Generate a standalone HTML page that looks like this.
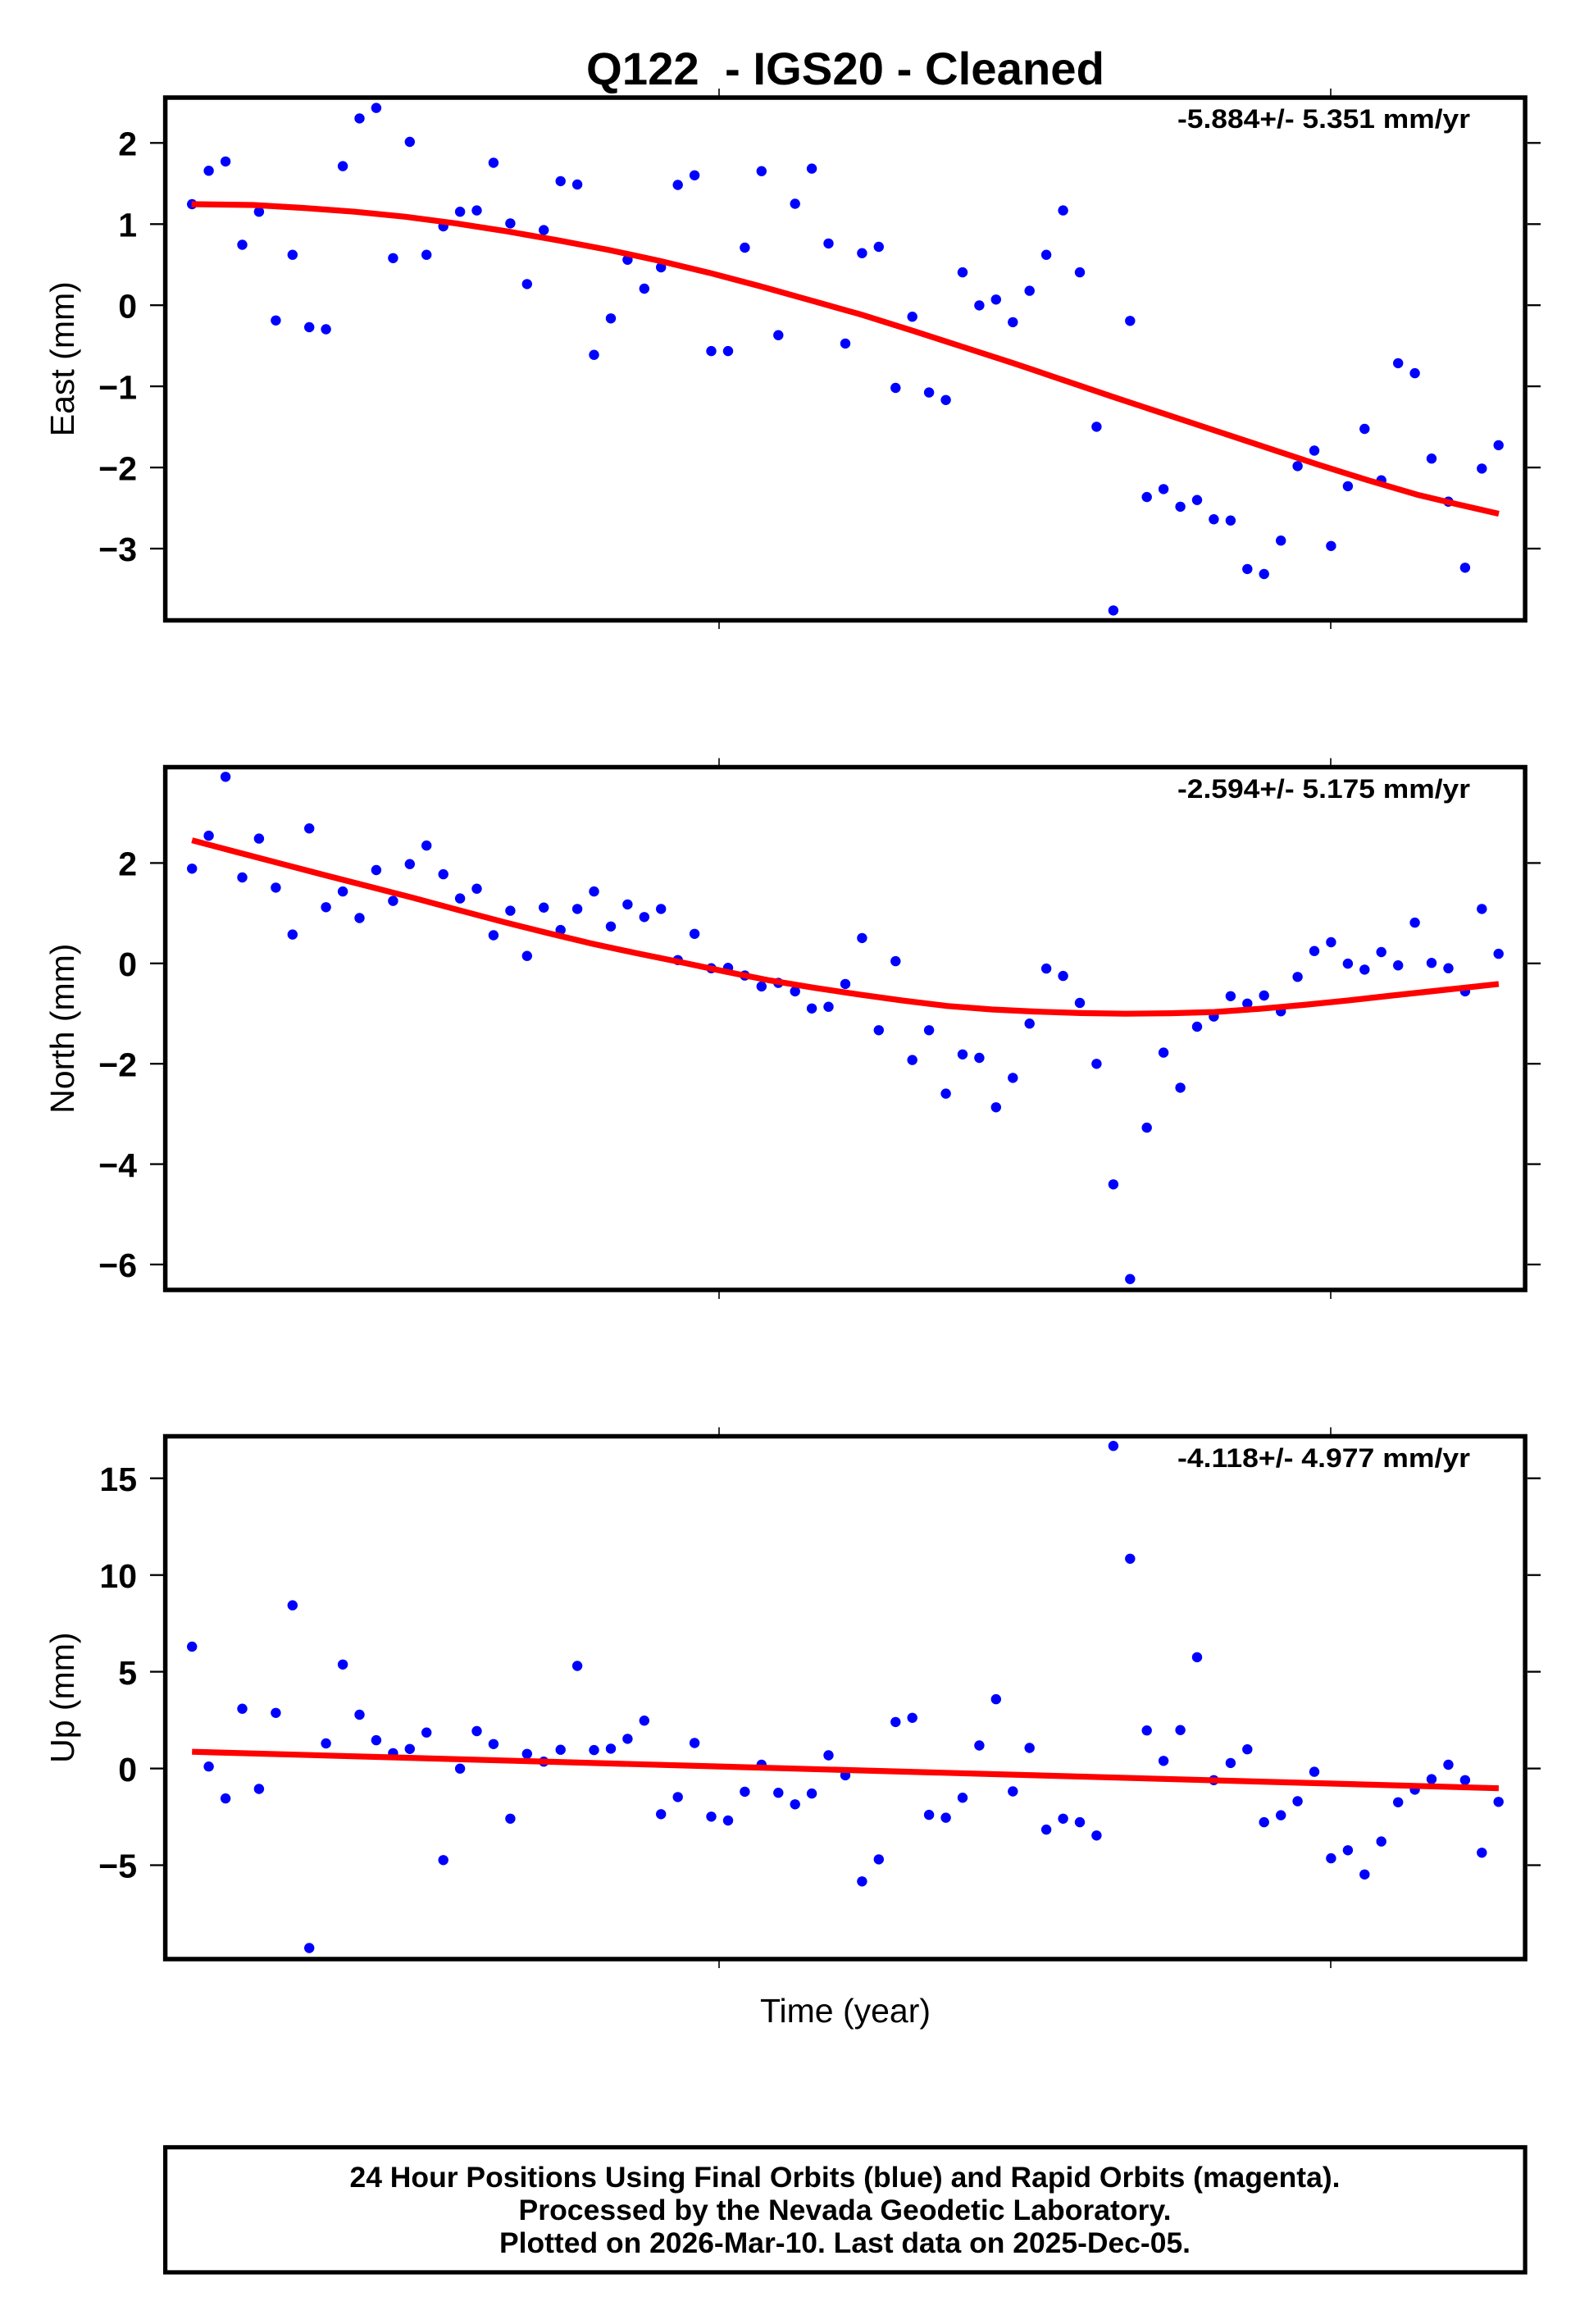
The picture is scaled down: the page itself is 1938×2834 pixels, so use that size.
<!DOCTYPE html>
<html>
<head>
<meta charset="utf-8">
<style>
html,body{margin:0;padding:0;background:#fff;}
svg{display:block;}
text{font-family:"Liberation Sans",Arial,sans-serif;}
</style>
</head>
<body>
<svg width="1938" height="2834" viewBox="0 0 1938 2834" xmlns="http://www.w3.org/2000/svg">
<rect x="0" y="0" width="1938" height="2834" fill="#fff"/>

<!-- Title -->
<text x="1031" y="103" font-size="56" font-weight="bold" text-anchor="middle" textLength="632" lengthAdjust="spacingAndGlyphs" style="white-space:pre">Q122  - IGS20 - Cleaned</text>

<!-- ================= EAST ================= -->
<g fill="#0000ff">
<circle cx="234.2" cy="249.0" r="6.2"/><circle cx="254.6" cy="208.2" r="6.2"/><circle cx="275.1" cy="196.9" r="6.2"/><circle cx="295.5" cy="298.5" r="6.2"/><circle cx="315.9" cy="258.2" r="6.2"/><circle cx="336.4" cy="390.8" r="6.2"/><circle cx="356.8" cy="310.7" r="6.2"/><circle cx="377.2" cy="399.0" r="6.2"/><circle cx="397.6" cy="401.5" r="6.2"/><circle cx="418.1" cy="202.6" r="6.2"/><circle cx="438.5" cy="144.4" r="6.2"/><circle cx="458.9" cy="131.6" r="6.2"/><circle cx="479.4" cy="314.8" r="6.2"/><circle cx="499.8" cy="173.0" r="6.2"/><circle cx="520.2" cy="310.7" r="6.2"/><circle cx="540.7" cy="276.0" r="6.2"/><circle cx="561.1" cy="258.2" r="6.2"/><circle cx="581.5" cy="256.6" r="6.2"/><circle cx="601.9" cy="198.5" r="6.2"/><circle cx="622.4" cy="272.4" r="6.2"/><circle cx="642.8" cy="346.4" r="6.2"/><circle cx="663.2" cy="280.6" r="6.2"/><circle cx="683.7" cy="220.9" r="6.2"/><circle cx="704.1" cy="225.0" r="6.2"/><circle cx="724.5" cy="432.7" r="6.2"/><circle cx="745.0" cy="388.3" r="6.2"/><circle cx="765.4" cy="316.8" r="6.2"/><circle cx="785.8" cy="352.0" r="6.2"/><circle cx="806.2" cy="326.0" r="6.2"/><circle cx="826.7" cy="225.5" r="6.2"/><circle cx="847.1" cy="213.8" r="6.2"/><circle cx="867.5" cy="428.1" r="6.2"/><circle cx="888.0" cy="428.1" r="6.2"/><circle cx="908.4" cy="302.0" r="6.2"/><circle cx="928.8" cy="208.7" r="6.2"/><circle cx="949.3" cy="408.7" r="6.2"/><circle cx="969.7" cy="248.5" r="6.2"/><circle cx="990.1" cy="205.6" r="6.2"/><circle cx="1010.5" cy="296.9" r="6.2"/><circle cx="1031.0" cy="418.9" r="6.2"/><circle cx="1051.4" cy="308.7" r="6.2"/><circle cx="1071.8" cy="301.0" r="6.2"/><circle cx="1092.3" cy="473.0" r="6.2"/><circle cx="1112.7" cy="386.2" r="6.2"/><circle cx="1133.1" cy="478.6" r="6.2"/><circle cx="1153.6" cy="487.8" r="6.2"/><circle cx="1174.0" cy="332.1" r="6.2"/><circle cx="1194.4" cy="372.4" r="6.2"/><circle cx="1214.8" cy="365.3" r="6.2"/><circle cx="1235.3" cy="392.9" r="6.2"/><circle cx="1255.7" cy="354.6" r="6.2"/><circle cx="1276.1" cy="310.7" r="6.2"/><circle cx="1296.6" cy="256.6" r="6.2"/><circle cx="1317.0" cy="332.1" r="6.2"/><circle cx="1337.4" cy="520.4" r="6.2"/><circle cx="1357.9" cy="744.4" r="6.2"/><circle cx="1378.3" cy="391.3" r="6.2"/><circle cx="1398.7" cy="606.1" r="6.2"/><circle cx="1419.1" cy="596.4" r="6.2"/><circle cx="1439.6" cy="617.9" r="6.2"/><circle cx="1460.0" cy="609.7" r="6.2"/><circle cx="1480.4" cy="633.2" r="6.2"/><circle cx="1500.9" cy="634.7" r="6.2"/><circle cx="1521.3" cy="693.9" r="6.2"/><circle cx="1541.7" cy="700.0" r="6.2"/><circle cx="1562.2" cy="659.2" r="6.2"/><circle cx="1582.6" cy="568.4" r="6.2"/><circle cx="1603.0" cy="549.5" r="6.2"/><circle cx="1623.4" cy="665.8" r="6.2"/><circle cx="1643.9" cy="592.9" r="6.2"/><circle cx="1664.3" cy="523.0" r="6.2"/><circle cx="1684.7" cy="585.7" r="6.2"/><circle cx="1705.2" cy="442.9" r="6.2"/><circle cx="1725.6" cy="455.1" r="6.2"/><circle cx="1746.0" cy="559.2" r="6.2"/><circle cx="1766.5" cy="611.7" r="6.2"/><circle cx="1786.9" cy="692.3" r="6.2"/><circle cx="1807.3" cy="571.4" r="6.2"/><circle cx="1827.7" cy="542.9" r="6.2"/>
</g>
<polyline fill="none" stroke="#ff0000" stroke-width="7.2" stroke-linejoin="round" points="233.6,249.0 309.0,250.0 370.8,253.6 432.6,258.2 494.4,264.3 556.2,272.4 618.0,282.1 679.8,292.9 741.6,304.6 803.4,317.9 865.2,332.7 927.0,349.0 988.8,366.3 1050.6,383.7 1112.4,403.1 1174.2,423.0 1236.0,442.9 1297.8,463.8 1359.6,484.7 1421.4,505.1 1483.2,525.5 1545.0,545.9 1606.8,566.3 1668.6,585.7 1730.4,603.8 1779.9,615.5 1828.0,626.5"/>
<rect x="201.6" y="119" width="1658.5" height="637.5" fill="none" stroke="#000" stroke-width="5.5"/>
<g stroke="#000" stroke-width="2.3">
<line x1="183" y1="174.3" x2="199" y2="174.3"/><line x1="183" y1="273.3" x2="199" y2="273.3"/><line x1="183" y1="372.2" x2="199" y2="372.2"/><line x1="183" y1="471.1" x2="199" y2="471.1"/><line x1="183" y1="570.1" x2="199" y2="570.1"/><line x1="183" y1="669.0" x2="199" y2="669.0"/>
<line x1="1863" y1="174.3" x2="1879" y2="174.3"/><line x1="1863" y1="273.3" x2="1879" y2="273.3"/><line x1="1863" y1="372.2" x2="1879" y2="372.2"/><line x1="1863" y1="471.1" x2="1879" y2="471.1"/><line x1="1863" y1="570.1" x2="1879" y2="570.1"/><line x1="1863" y1="669.0" x2="1879" y2="669.0"/>
</g>
<g stroke="#000" stroke-width="1.6">
<line x1="877" y1="108" x2="877" y2="117"/><line x1="1623" y1="108" x2="1623" y2="117"/>
<line x1="877" y1="758" x2="877" y2="767"/><line x1="1623" y1="758" x2="1623" y2="767"/>
</g>
<g font-size="41" font-weight="bold" text-anchor="end">
<text x="167" y="189.5">2</text><text x="167" y="288.5">1</text><text x="167" y="387.4">0</text><text x="167" y="486.3">−1</text><text x="167" y="585.3">−2</text><text x="167" y="684.2">−3</text>
</g>
<text transform="translate(90,437.75) rotate(-90)" font-size="41" text-anchor="middle">East (mm)</text>
<text x="1436" y="156" font-size="32" font-weight="bold" textLength="357" lengthAdjust="spacingAndGlyphs">-5.884+/- 5.351 mm/yr</text>

<!-- ================= NORTH ================= -->
<g fill="#0000ff">
<circle cx="234.2" cy="1059.3" r="6.2"/><circle cx="254.6" cy="1019.1" r="6.2"/><circle cx="275.1" cy="947.3" r="6.2"/><circle cx="295.5" cy="1070.0" r="6.2"/><circle cx="315.9" cy="1022.6" r="6.2"/><circle cx="336.4" cy="1082.4" r="6.2"/><circle cx="356.8" cy="1139.6" r="6.2"/><circle cx="377.2" cy="1010.2" r="6.2"/><circle cx="397.6" cy="1106.3" r="6.2"/><circle cx="418.1" cy="1087.1" r="6.2"/><circle cx="438.5" cy="1119.5" r="6.2"/><circle cx="458.9" cy="1061.0" r="6.2"/><circle cx="479.4" cy="1098.6" r="6.2"/><circle cx="499.8" cy="1053.7" r="6.2"/><circle cx="520.2" cy="1031.1" r="6.2"/><circle cx="540.7" cy="1066.1" r="6.2"/><circle cx="561.1" cy="1095.6" r="6.2"/><circle cx="581.5" cy="1083.7" r="6.2"/><circle cx="601.9" cy="1140.5" r="6.2"/><circle cx="622.4" cy="1110.6" r="6.2"/><circle cx="642.8" cy="1165.7" r="6.2"/><circle cx="663.2" cy="1106.7" r="6.2"/><circle cx="683.7" cy="1134.1" r="6.2"/><circle cx="704.1" cy="1108.4" r="6.2"/><circle cx="724.5" cy="1087.1" r="6.2"/><circle cx="745.0" cy="1129.8" r="6.2"/><circle cx="765.4" cy="1102.9" r="6.2"/><circle cx="785.8" cy="1118.3" r="6.2"/><circle cx="806.2" cy="1108.4" r="6.2"/><circle cx="826.7" cy="1170.8" r="6.2"/><circle cx="847.1" cy="1138.8" r="6.2"/><circle cx="867.5" cy="1180.7" r="6.2"/><circle cx="888.0" cy="1180.2" r="6.2"/><circle cx="908.4" cy="1189.6" r="6.2"/><circle cx="928.8" cy="1202.9" r="6.2"/><circle cx="949.3" cy="1198.6" r="6.2"/><circle cx="969.7" cy="1208.9" r="6.2"/><circle cx="990.1" cy="1229.8" r="6.2"/><circle cx="1010.5" cy="1227.7" r="6.2"/><circle cx="1031.0" cy="1199.9" r="6.2"/><circle cx="1051.4" cy="1143.9" r="6.2"/><circle cx="1071.8" cy="1256.3" r="6.2"/><circle cx="1092.3" cy="1172.1" r="6.2"/><circle cx="1112.7" cy="1292.6" r="6.2"/><circle cx="1133.1" cy="1256.3" r="6.2"/><circle cx="1153.6" cy="1333.6" r="6.2"/><circle cx="1174.0" cy="1285.8" r="6.2"/><circle cx="1194.4" cy="1290.0" r="6.2"/><circle cx="1214.8" cy="1350.3" r="6.2"/><circle cx="1235.3" cy="1314.4" r="6.2"/><circle cx="1255.7" cy="1248.2" r="6.2"/><circle cx="1276.1" cy="1181.1" r="6.2"/><circle cx="1296.6" cy="1190.1" r="6.2"/><circle cx="1317.0" cy="1223.0" r="6.2"/><circle cx="1337.4" cy="1297.3" r="6.2"/><circle cx="1357.9" cy="1444.3" r="6.2"/><circle cx="1378.3" cy="1559.7" r="6.2"/><circle cx="1398.7" cy="1375.1" r="6.2"/><circle cx="1419.1" cy="1283.6" r="6.2"/><circle cx="1439.6" cy="1326.4" r="6.2"/><circle cx="1460.0" cy="1252.0" r="6.2"/><circle cx="1480.4" cy="1239.6" r="6.2"/><circle cx="1500.9" cy="1214.8" r="6.2"/><circle cx="1521.3" cy="1223.8" r="6.2"/><circle cx="1541.7" cy="1214.0" r="6.2"/><circle cx="1562.2" cy="1233.2" r="6.2"/><circle cx="1582.6" cy="1191.3" r="6.2"/><circle cx="1603.0" cy="1159.7" r="6.2"/><circle cx="1623.4" cy="1149.0" r="6.2"/><circle cx="1643.9" cy="1175.1" r="6.2"/><circle cx="1664.3" cy="1182.4" r="6.2"/><circle cx="1684.7" cy="1161.0" r="6.2"/><circle cx="1705.2" cy="1177.2" r="6.2"/><circle cx="1725.6" cy="1125.1" r="6.2"/><circle cx="1746.0" cy="1174.2" r="6.2"/><circle cx="1766.5" cy="1180.7" r="6.2"/><circle cx="1786.9" cy="1208.9" r="6.2"/><circle cx="1807.3" cy="1108.4" r="6.2"/><circle cx="1827.7" cy="1163.1" r="6.2"/>
</g>
<polyline fill="none" stroke="#ff0000" stroke-width="7.2" stroke-linejoin="round" points="234.2,1024.7 288.4,1039.0 342.6,1053.2 396.8,1067.4 451.0,1081.2 505.2,1095.2 559.4,1109.8 613.7,1124.2 667.9,1137.8 722.1,1150.7 776.3,1162.4 830.5,1173.4 884.7,1184.8 938.9,1195.6 993.1,1204.6 1047.3,1212.7 1101.5,1220.2 1155.7,1226.8 1209.9,1231.0 1264.1,1233.6 1318.3,1235.4 1372.5,1236.2 1426.7,1235.6 1480.9,1234.1 1535.1,1230.3 1589.4,1225.5 1643.6,1220.1 1697.8,1214.0 1762.8,1207.0 1827.9,1199.9"/>
<rect x="201.6" y="935.5" width="1658.5" height="637.5" fill="none" stroke="#000" stroke-width="5.5"/>
<g stroke="#000" stroke-width="2.3">
<line x1="183" y1="1052.4" x2="199" y2="1052.4"/><line x1="183" y1="1174.8" x2="199" y2="1174.8"/><line x1="183" y1="1297.2" x2="199" y2="1297.2"/><line x1="183" y1="1419.6" x2="199" y2="1419.6"/><line x1="183" y1="1542.0" x2="199" y2="1542.0"/>
<line x1="1863" y1="1052.4" x2="1879" y2="1052.4"/><line x1="1863" y1="1174.8" x2="1879" y2="1174.8"/><line x1="1863" y1="1297.2" x2="1879" y2="1297.2"/><line x1="1863" y1="1419.6" x2="1879" y2="1419.6"/><line x1="1863" y1="1542.0" x2="1879" y2="1542.0"/>
</g>
<g stroke="#000" stroke-width="1.6">
<line x1="877" y1="924.5" x2="877" y2="933.5"/><line x1="1623" y1="924.5" x2="1623" y2="933.5"/>
<line x1="877" y1="1575" x2="877" y2="1584"/><line x1="1623" y1="1575" x2="1623" y2="1584"/>
</g>
<g font-size="41" font-weight="bold" text-anchor="end">
<text x="167" y="1067.6">2</text><text x="167" y="1190.0">0</text><text x="167" y="1312.4">−2</text><text x="167" y="1434.8">−4</text><text x="167" y="1557.2">−6</text>
</g>
<text transform="translate(90,1254.2) rotate(-90)" font-size="41" text-anchor="middle">North (mm)</text>
<text x="1436" y="973" font-size="32" font-weight="bold" textLength="357" lengthAdjust="spacingAndGlyphs">-2.594+/- 5.175 mm/yr</text>

<!-- ================= UP ================= -->
<g fill="#0000ff">
<circle cx="234.2" cy="2008.0" r="6.2"/><circle cx="254.6" cy="2154.2" r="6.2"/><circle cx="275.1" cy="2193.1" r="6.2"/><circle cx="295.5" cy="2083.7" r="6.2"/><circle cx="315.9" cy="2181.5" r="6.2"/><circle cx="336.4" cy="2088.8" r="6.2"/><circle cx="356.8" cy="1957.6" r="6.2"/><circle cx="377.2" cy="2375.5" r="6.2"/><circle cx="397.6" cy="2126.0" r="6.2"/><circle cx="418.1" cy="2029.8" r="6.2"/><circle cx="438.5" cy="2091.0" r="6.2"/><circle cx="458.9" cy="2122.1" r="6.2"/><circle cx="479.4" cy="2137.9" r="6.2"/><circle cx="499.8" cy="2132.8" r="6.2"/><circle cx="520.2" cy="2112.7" r="6.2"/><circle cx="540.7" cy="2268.3" r="6.2"/><circle cx="561.1" cy="2156.7" r="6.2"/><circle cx="581.5" cy="2111.0" r="6.2"/><circle cx="601.9" cy="2126.8" r="6.2"/><circle cx="622.4" cy="2217.8" r="6.2"/><circle cx="642.8" cy="2138.8" r="6.2"/><circle cx="663.2" cy="2148.2" r="6.2"/><circle cx="683.7" cy="2133.7" r="6.2"/><circle cx="704.1" cy="2031.5" r="6.2"/><circle cx="724.5" cy="2134.1" r="6.2"/><circle cx="745.0" cy="2132.4" r="6.2"/><circle cx="765.4" cy="2120.4" r="6.2"/><circle cx="785.8" cy="2098.2" r="6.2"/><circle cx="806.2" cy="2212.3" r="6.2"/><circle cx="826.7" cy="2191.4" r="6.2"/><circle cx="847.1" cy="2125.5" r="6.2"/><circle cx="867.5" cy="2215.3" r="6.2"/><circle cx="888.0" cy="2220.0" r="6.2"/><circle cx="908.4" cy="2184.9" r="6.2"/><circle cx="928.8" cy="2152.0" r="6.2"/><circle cx="949.3" cy="2186.2" r="6.2"/><circle cx="969.7" cy="2200.3" r="6.2"/><circle cx="990.1" cy="2187.1" r="6.2"/><circle cx="1010.5" cy="2140.5" r="6.2"/><circle cx="1031.0" cy="2164.9" r="6.2"/><circle cx="1051.4" cy="2294.3" r="6.2"/><circle cx="1071.8" cy="2267.4" r="6.2"/><circle cx="1092.3" cy="2099.9" r="6.2"/><circle cx="1112.7" cy="2094.8" r="6.2"/><circle cx="1133.1" cy="2213.1" r="6.2"/><circle cx="1153.6" cy="2216.6" r="6.2"/><circle cx="1174.0" cy="2192.2" r="6.2"/><circle cx="1194.4" cy="2128.5" r="6.2"/><circle cx="1214.8" cy="2072.1" r="6.2"/><circle cx="1235.3" cy="2184.5" r="6.2"/><circle cx="1255.7" cy="2131.5" r="6.2"/><circle cx="1276.1" cy="2231.1" r="6.2"/><circle cx="1296.6" cy="2217.8" r="6.2"/><circle cx="1317.0" cy="2222.1" r="6.2"/><circle cx="1337.4" cy="2238.3" r="6.2"/><circle cx="1357.9" cy="1763.2" r="6.2"/><circle cx="1378.3" cy="1900.8" r="6.2"/><circle cx="1398.7" cy="2110.2" r="6.2"/><circle cx="1419.1" cy="2147.3" r="6.2"/><circle cx="1439.6" cy="2109.7" r="6.2"/><circle cx="1460.0" cy="2020.9" r="6.2"/><circle cx="1480.4" cy="2170.8" r="6.2"/><circle cx="1500.9" cy="2149.9" r="6.2"/><circle cx="1521.3" cy="2133.2" r="6.2"/><circle cx="1541.7" cy="2222.1" r="6.2"/><circle cx="1562.2" cy="2213.6" r="6.2"/><circle cx="1582.6" cy="2196.5" r="6.2"/><circle cx="1603.0" cy="2160.6" r="6.2"/><circle cx="1623.4" cy="2266.1" r="6.2"/><circle cx="1643.9" cy="2256.3" r="6.2"/><circle cx="1664.3" cy="2285.8" r="6.2"/><circle cx="1684.7" cy="2245.6" r="6.2"/><circle cx="1705.2" cy="2197.8" r="6.2"/><circle cx="1725.6" cy="2182.4" r="6.2"/><circle cx="1746.0" cy="2169.6" r="6.2"/><circle cx="1766.5" cy="2152.0" r="6.2"/><circle cx="1786.9" cy="2170.8" r="6.2"/><circle cx="1807.3" cy="2259.3" r="6.2"/><circle cx="1827.7" cy="2197.3" r="6.2"/>
</g>
<line x1="234.2" y1="2136.2" x2="1827.9" y2="2180.7" stroke="#ff0000" stroke-width="7.2"/>
<rect x="201.6" y="1751.5" width="1658.5" height="637.5" fill="none" stroke="#000" stroke-width="5.5"/>
<g stroke="#000" stroke-width="2.3">
<line x1="183" y1="1802.7" x2="199" y2="1802.7"/><line x1="183" y1="1920.7" x2="199" y2="1920.7"/><line x1="183" y1="2038.6" x2="199" y2="2038.6"/><line x1="183" y1="2156.6" x2="199" y2="2156.6"/><line x1="183" y1="2274.5" x2="199" y2="2274.5"/>
<line x1="1863" y1="1802.7" x2="1879" y2="1802.7"/><line x1="1863" y1="1920.7" x2="1879" y2="1920.7"/><line x1="1863" y1="2038.6" x2="1879" y2="2038.6"/><line x1="1863" y1="2156.6" x2="1879" y2="2156.6"/><line x1="1863" y1="2274.5" x2="1879" y2="2274.5"/>
</g>
<g stroke="#000" stroke-width="1.6">
<line x1="877" y1="1740.5" x2="877" y2="1749.5"/><line x1="1623" y1="1740.5" x2="1623" y2="1749.5"/>
<line x1="877" y1="2391" x2="877" y2="2400"/><line x1="1623" y1="2391" x2="1623" y2="2400"/>
</g>
<g font-size="41" font-weight="bold" text-anchor="end">
<text x="167" y="1817.9">15</text><text x="167" y="1935.9">10</text><text x="167" y="2053.8">5</text><text x="167" y="2171.8">0</text><text x="167" y="2289.7">−5</text>
</g>
<text transform="translate(90,2070.2) rotate(-90)" font-size="41" text-anchor="middle">Up (mm)</text>
<text x="1436" y="1789" font-size="32" font-weight="bold" textLength="357" lengthAdjust="spacingAndGlyphs">-4.118+/- 4.977 mm/yr</text>

<!-- X label -->
<text x="1031" y="2466" font-size="41" text-anchor="middle">Time (year)</text>

<!-- Footer -->
<rect x="201.6" y="2618.5" width="1658.5" height="152.5" fill="none" stroke="#000" stroke-width="5.2"/>
<g font-size="35" font-weight="bold" text-anchor="middle">
<text x="1030.5" y="2667" textLength="1208" lengthAdjust="spacingAndGlyphs">24 Hour Positions Using Final Orbits (blue) and Rapid Orbits (magenta).</text>
<text x="1030.5" y="2707" textLength="796" lengthAdjust="spacingAndGlyphs">Processed by the Nevada Geodetic Laboratory.</text>
<text x="1030.5" y="2747" textLength="843" lengthAdjust="spacingAndGlyphs">Plotted on 2026-Mar-10. Last data on 2025-Dec-05.</text>
</g>
</svg>
</body>
</html>
